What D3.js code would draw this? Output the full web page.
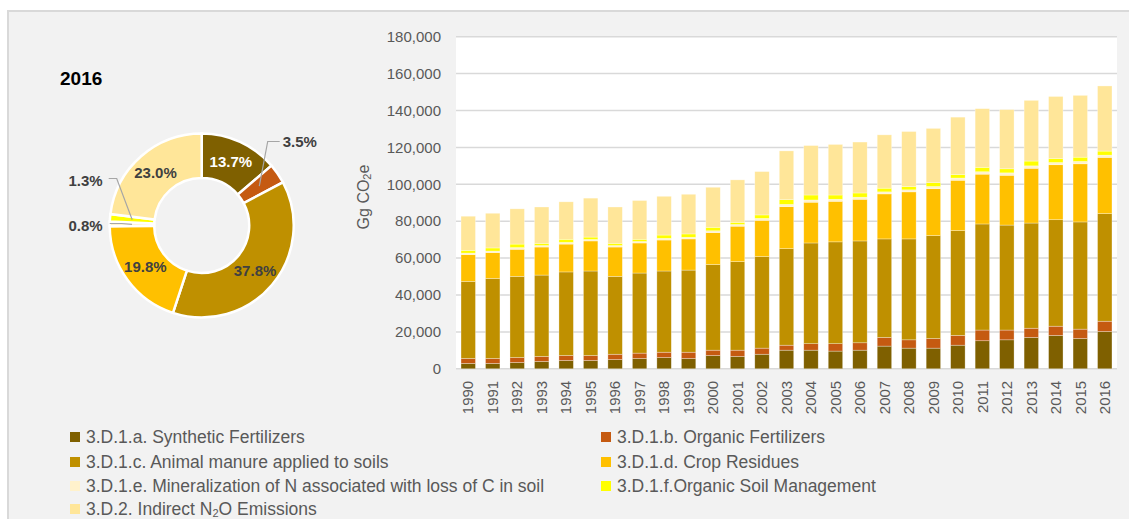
<!DOCTYPE html>
<html>
<head>
<meta charset="utf-8">
<script src="https://cdnjs.cloudflare.com/ajax/libs/d3/7.8.5/d3.min.js"></script>
<style>
  html, body { margin: 0; padding: 0; background: #ffffff; }
  svg { display: block; }
  text { font-family: "Liberation Sans", Arial, sans-serif; }
</style>
</head>
<body>
<svg id="chart" width="1129" height="519"></svg>
<script>
// ---------------- DATA ----------------
const years = ["1990","1991","1992","1993","1994","1995","1996","1997","1998","1999","2000","2001","2002","2003","2004","2005","2006","2007","2008","2009","2010","2011","2012","2013","2014","2015","2016"];

const synthetic = [2900,2900,3400,4000,4500,4500,5000,5600,6100,5600,7200,6700,7900,10100,10100,9600,10100,12300,11200,11200,12800,15200,15700,17000,18100,16400,20200];
const organicFert = [2700,2700,2700,2700,2700,2700,2900,2900,2900,3400,2900,3400,3300,2700,3500,4000,4000,4700,4500,5200,5300,5800,5300,5000,5000,5100,5600];
const manure = [41800,43400,44000,44100,45300,45800,42200,43400,44000,44500,46400,48000,49600,52300,54600,55200,55200,53400,54700,55800,56800,57500,56900,57000,57700,58100,58300];
const cropResidues = [14500,14000,14700,15200,15100,16300,15900,16300,16800,16900,17300,19200,19700,22800,22100,22000,22600,24400,25500,25400,27300,27000,27000,29700,29800,31500,30500];
const mineralization = [800,800,900,800,900,800,800,800,900,900,1000,900,1000,1200,1200,1100,1100,1100,1100,1200,1200,1300,1300,1300,1200,1300,1200];
const organicSoil = [1500,1700,1900,1200,1700,1300,1200,1200,1800,1800,1900,1200,1900,2600,2700,2300,2300,2000,1800,2100,1900,2400,2200,2600,2200,2300,2200];
const indirectN2O = [18500,18800,19100,19700,20300,21100,19700,21000,21000,21500,21700,23000,23500,26400,26800,27400,27600,28900,29800,29400,31100,31800,32100,32900,33600,33500,35300];

const seriesKeys = ["a","b","c","d","e","f","g"];
const seriesValues = [synthetic, organicFert, manure, cropResidues, mineralization, organicSoil, indirectN2O];
const seriesColors = ["#7f6000","#c55a11","#bf9000","#ffc000","#fff2cc","#ffff00","#ffe699"];

// 2016 shares (pie), same order as series
const pieShares = [13.7, 3.5, 37.8, 19.8, 0.8, 1.3, 23.0];
const pieLabels = ["13.7%","3.5%","37.8%","19.8%","0.8%","1.3%","23.0%"];
const pieTitle = "2016";

const yTicks = [0,20000,40000,60000,80000,100000,120000,140000,160000,180000];

// Legend entries ("|" marks a subscript part)
const legendLabels = [
  "3.D.1.a. Synthetic Fertilizers",
  "3.D.1.b. Organic Fertilizers",
  "3.D.1.c. Animal manure applied to soils",
  "3.D.1.d. Crop Residues",
  "3.D.1.e. Mineralization of N associated with loss of C in soil",
  "3.D.1.f.Organic Soil Management",
  "3.D.2. Indirect N|2|O Emissions"
];

// ---------------- DRAW ----------------
const svg = d3.select("#chart");
const textGray = "#595959";
const gridGray = "#d9d9d9";

// chart area background and border
svg.append("rect").attr("x", 8).attr("y", 11).attr("width", 1140).attr("height", 530)
  .attr("fill", "#f2f2f2").attr("stroke", gridGray).attr("stroke-width", 2);

// ---- Bar chart ----
const x = d3.scaleBand().domain(years).range([456, 1117]).paddingInner(0.41).paddingOuter(0.205);
const y = d3.scaleLinear().domain([0, 180000]).range([368.8, 36.7]);

svg.append("rect").attr("x", 456).attr("y", y(180000)).attr("width", 1117 - 456)
  .attr("height", y(0) - y(180000)).attr("fill", "#ffffff");

svg.append("g").selectAll("line").data(yTicks).join("line")
  .attr("x1", 456).attr("x2", 1117)
  .attr("y1", d => y(d)).attr("y2", d => y(d))
  .attr("stroke", gridGray).attr("stroke-width", 1.5);

svg.append("g").selectAll("text").data(yTicks).join("text")
  .attr("x", 441).attr("y", d => y(d)).attr("dy", "0.35em")
  .attr("text-anchor", "end").attr("fill", textGray).attr("font-size", 15)
  .text(d => d3.format(",")(d));

// y axis title
const yTitle = svg.append("text")
  .attr("transform", "translate(369,197) rotate(-90)")
  .attr("text-anchor", "middle").attr("fill", textGray).attr("font-size", 16);
yTitle.append("tspan").text("Gg CO");
yTitle.append("tspan").attr("font-size", 11).attr("dy", 2).text("2");
yTitle.append("tspan").attr("dy", -2).text("e");

const rows = years.map((yr, i) => {
  const r = { year: yr };
  seriesKeys.forEach((k, j) => r[k] = seriesValues[j][i]);
  return r;
});
const stacked = d3.stack().keys(seriesKeys)(rows);

svg.append("g").selectAll("g").data(stacked).join("g")
  .attr("fill", (d, i) => seriesColors[i])
  .selectAll("rect").data(d => d).join("rect")
  .attr("x", d => x(d.data.year))
  .attr("width", x.bandwidth())
  .attr("y", d => y(d[1]))
  .attr("height", d => y(d[0]) - y(d[1]))
  .attr("stroke", "#ffffff").attr("stroke-width", 0.6).attr("stroke-opacity", 0.5);

svg.append("g").selectAll("text").data(years).join("text")
  .attr("transform", d => `translate(${x(d) + x.bandwidth() / 2},${y(0) + 12}) rotate(-90)`)
  .attr("text-anchor", "end").attr("dy", "0.35em")
  .attr("fill", textGray).attr("font-size", 15)
  .text(d => d);

// ---- Pie (doughnut) ----
const cx = 201.7, cy = 225.5, rOuter = 92, rInner = 47.5;
const pg = svg.append("g").attr("transform", `translate(${cx},${cy})`);
const pie = d3.pie().sort(null).value(d => d);
const arcs = pie(pieShares);
const arc = d3.arc().innerRadius(rInner).outerRadius(rOuter);

pg.selectAll("path").data(arcs).join("path")
  .attr("d", arc)
  .attr("fill", (d, i) => seriesColors[i])
  .attr("stroke", "#ffffff").attr("stroke-width", 2.5);

svg.append("text").attr("x", 60).attr("y", 85).attr("font-size", 19).attr("font-weight", "bold")
  .attr("fill", "#000000").text(pieTitle);

// inside labels (big slices)
const insideIdx = [0, 2, 3, 6];
pg.selectAll("text.in").data(insideIdx).join("text").attr("class", "in")
  .attr("x", i => arc.centroid(arcs[i])[0])
  .attr("y", i => arc.centroid(arcs[i])[1])
  .attr("dy", "0.35em").attr("text-anchor", "middle")
  .attr("font-size", 15).attr("font-weight", "bold")
  .attr("fill", i => i === 0 ? "#ffffff" : "#404040")
  .text(i => pieLabels[i]);

// outside labels with leader lines
const leaderGray = "#a6a6a6";
const outside = [
  { i: 1, bend: [66, -84], end: [78, -84], lx: 81, ly: -84, anchor: "start" },
  { i: 5, bend: [-85, -47], end: [-93, -47], lx: -99, ly: -45, anchor: "end" },
  { i: 4, bend: [-80, -2], end: [-92, -2], lx: -99, ly: 0, anchor: "end" }
];
outside.forEach(o => {
  const c = arc.centroid(arcs[o.i]);
  pg.append("polyline")
    .attr("points", [c, o.bend, o.end].map(p => p.join(",")).join(" "))
    .attr("fill", "none").attr("stroke", leaderGray).attr("stroke-width", 1.2);
  pg.append("text").attr("x", o.lx).attr("y", o.ly).attr("dy", "0.35em")
    .attr("text-anchor", o.anchor).attr("font-size", 15).attr("font-weight", "bold")
    .attr("fill", "#404040").text(pieLabels[o.i]);
});

// ---- Legend ----
const legendPos = [
  [70, 437], [601, 437],
  [70, 462], [601, 462],
  [70, 486], [601, 486],
  [70, 509]
];
const lg = svg.append("g");
legendLabels.forEach((lab, i) => {
  const [lx, ly] = legendPos[i];
  lg.append("rect").attr("x", lx).attr("y", ly - 5).attr("width", 10).attr("height", 10)
    .attr("fill", seriesColors[i]);
  const t = lg.append("text").attr("x", lx + 16).attr("y", ly).attr("dy", "0.35em")
    .attr("fill", textGray).attr("font-size", 17.5);
  const parts = lab.split("|");
  if (parts.length === 1) {
    t.text(lab);
  } else {
    t.append("tspan").text(parts[0]);
    t.append("tspan").attr("font-size", 11).attr("dy", 2).text(parts[1]);
    t.append("tspan").attr("dy", -2).text(parts[2]);
  }
});
</script>
</body>
</html>
